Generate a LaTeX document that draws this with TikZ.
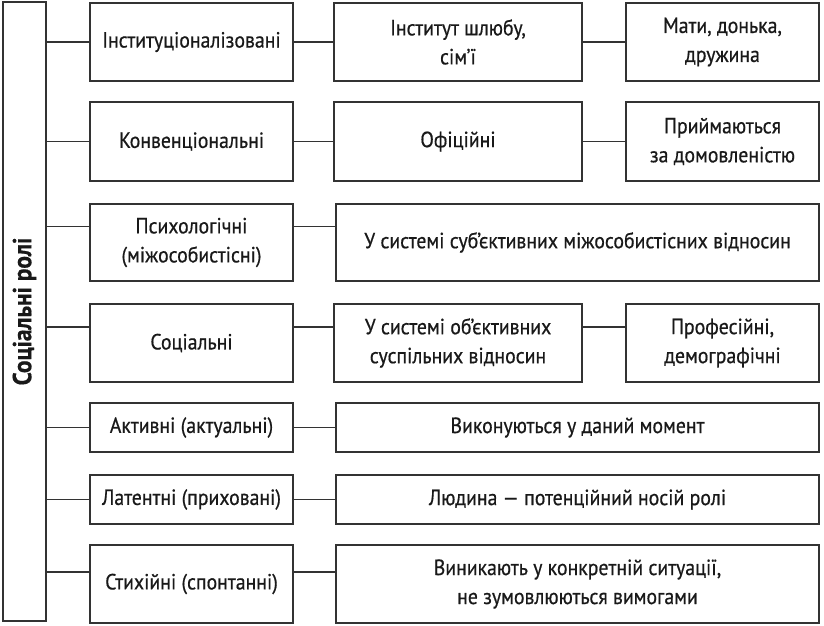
\documentclass[tikz,border=0pt]{standalone}
\usepackage{fontspec}
\setmainfont[FakeStretch=0.9,FakeBold=0.6]{PT Sans}
\begin{document}
\begin{tikzpicture}[x=1pt,y=-1pt,
  box/.style={draw=black!80, line width=1.7pt, align=center, inner sep=0pt,
    font=\fontsize{22}{29}\selectfont, text=black!90},
  link/.style={draw=black!80, line width=1.7pt}]
\useasboundingbox (0,0) rectangle (824,626);
% root
\node[box, minimum width=43pt, minimum height=619pt] (root) at (24.5,311.5) {};
\node[rotate=90, font=\bfseries\fontsize{26}{28}\selectfont, text=black!90] (rootlabel) at (root.center) {Соціальні ролі};
% column A
\node[box, minimum width=203pt, minimum height=78pt] (a1) at (191.5,42) {Інституціоналізовані};
\node[box, minimum width=203pt, minimum height=79pt] (a2) at (191.5,141.5) {Конвенціональні};
\node[box, minimum width=203pt, minimum height=77pt] (a3) at (191.5,242.5) {Психологічні\\(міжособистісні)};
\node[box, minimum width=203pt, minimum height=78pt] (a4) at (191.5,343) {Соціальні};
\node[box, minimum width=203pt, minimum height=49pt] (a5) at (191.5,427.5) {Активні (актуальні)};
\node[box, minimum width=203pt, minimum height=49pt] (a6) at (191.5,499.5) {Латентні (приховані)};
\node[box, minimum width=203pt, minimum height=78pt] (a7) at (191.5,584) {Стихійні (спонтанні)};
% column B
\node[box, minimum width=248pt, minimum height=78pt] (b1) at (458,42) {Інститут шлюбу,\\сім’ї};
\node[box, minimum width=248pt, minimum height=79pt] (b2) at (458,141.5) {Офіційні};
\node[box, minimum width=483pt, minimum height=77pt] (b3) at (577.5,242.5) {У системі суб’єктивних міжособистісних відносин};
\node[box, minimum width=248pt, minimum height=78pt] (b4) at (458,343) {У системі об’єктивних\\суспільних відносин};
\node[box, minimum width=483pt, minimum height=49pt] (b5) at (577.5,427.5) {Виконуються у даний момент};
\node[box, minimum width=483pt, minimum height=49pt] (b6) at (577.5,499.5) {Людина — потенційний носій ролі};
\node[box, minimum width=483pt, minimum height=78pt] (b7) at (577.5,584) {Виникають у конкретній ситуації,\\не зумовлюються вимогами};
% column C
\node[box, minimum width=193pt, minimum height=78pt] (c1) at (722.5,42) {Мати, донька,\\дружина};
\node[box, minimum width=193pt, minimum height=79pt] (c2) at (722.5,141.5) {Приймаються\\за домовленістю};
\node[box, minimum width=193pt, minimum height=78pt] (c4) at (722.5,343) {Професійні,\\демографічні};
% junction heights
\coordinate (j1) at (a1.west);
\coordinate (j2) at (a2.west);
\coordinate (j3) at ([yshift=16pt]a3.west);
\coordinate (j4) at ([yshift=16pt]a4.west);
\coordinate (j5) at (a5.west);
\coordinate (j6) at (a6.west);
\coordinate (j7) at ([yshift=12pt]a7.west);
% trunk branches
\foreach \i in {1,...,7} {
  \draw[link] (root.east |- j\i) -- (a\i.west |- j\i);
  \draw[link] (a\i.east |- j\i) -- (b\i.west |- j\i);
}
\draw[link] (b1.east) -- (c1.west);
\draw[link] (b2.east) -- (c2.west);
\draw[link] (b4.east |- j4) -- (c4.west |- j4);
\end{tikzpicture}
\end{document}
